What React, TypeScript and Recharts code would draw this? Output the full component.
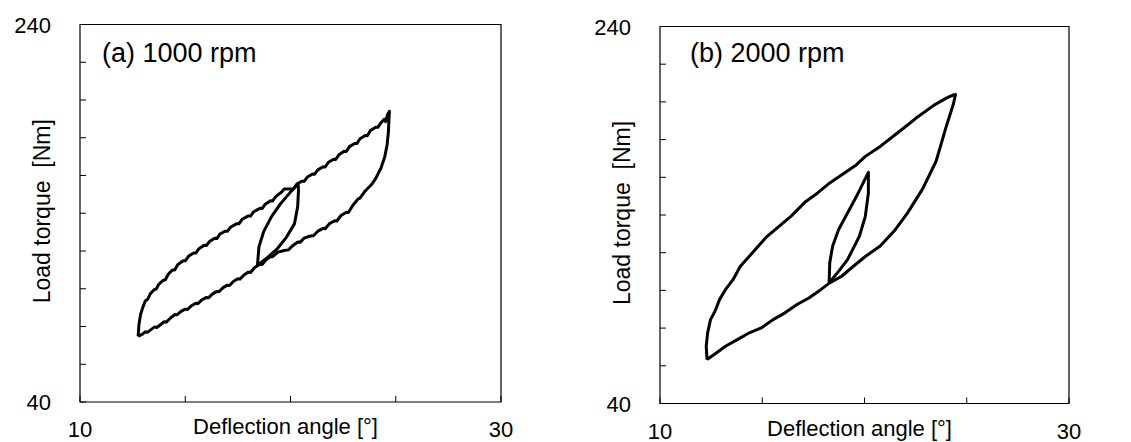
import React from 'react';
import { LineChart, Line, XAxis, YAxis, ReferenceArea } from 'recharts';

const FONT = '"Liberation Sans", Arial, sans-serif';

const xTicks = [10, 15, 20, 25, 30];
const yTicks = [40, 60, 80, 100, 120, 140, 160, 180, 200, 220, 240];
const xLabelTicks = [10, 30];
const yLabelTicks = [40, 240];

// (a) 1000 rpm — outer loop, lower branch (left tip -> right tip)
const lowerA_angle = [
  12.76, 12.95, 13.1, 13.2, 13.4, 13.55, 13.65, 13.85, 14.0, 14.1, 14.3, 14.5, 14.6, 14.8, 15.0, 15.1,
  15.3, 15.5, 15.6, 15.8, 16.0, 16.1, 16.3, 16.5, 16.6, 16.8, 17.0, 17.1, 17.3, 17.5, 17.6, 17.8, 18.0,
  18.1, 18.3, 18.55, 18.65, 18.85, 19.05, 19.15, 19.4, 19.7, 19.9, 20.1, 20.35, 20.45, 20.65, 20.9,
  21.1, 21.3, 21.55, 21.65, 21.85, 22.1, 22.2, 22.4, 22.65, 22.75, 22.95, 23.2, 23.3, 23.55, 23.85,
  24.05, 24.3, 24.48, 24.59, 24.65, 24.68, 24.7,
];
const lowerA_torque = [
  74.8, 75.8, 77.2, 76.9, 78.6, 79.8, 79.5, 81.2, 82.5, 82.3, 84.5, 86.3, 86.2, 88.0, 89.2, 89.0,
  91.0, 92.3, 92.1, 94.2, 95.4, 95.2, 97.3, 98.6, 98.4, 100.6, 101.9, 101.7, 104.0, 105.3, 105.1, 107.4, 108.8,
  108.6, 111.3, 113.0, 112.8, 115.5, 117.0, 117.0, 119.4, 120.3, 120.6, 122.8, 124.8, 124.6, 126.8, 127.8,
  128.2, 130.5, 132.0, 131.8, 134.5, 136.0, 135.9, 138.8, 140.5, 140.4, 144.0, 147.5, 148.0, 151.8, 155.2,
  158.5, 164.0, 170.0, 176.3, 183.0, 190.5, 194.0,
];
// (a) outer loop, upper branch (left tip -> right tip)
const upperA_angle = [
  12.76, 12.8, 12.88, 12.98, 13.1, 13.22, 13.35, 13.52, 13.62, 13.75, 13.95, 14.05, 14.2, 14.4, 14.5,
  14.65, 14.9, 15.0, 15.15, 15.4, 15.5, 15.65, 15.9, 16.0, 16.15, 16.4, 16.5, 16.65, 16.9, 17.0, 17.15,
  17.45, 17.55, 17.7, 18.0, 18.1, 18.25, 18.55, 18.65, 18.8, 19.05, 19.15, 19.3, 19.6, 19.7, 20.15, 20.3,
  20.55, 20.65, 20.8, 21.05, 21.15, 21.3, 21.55, 21.65, 21.8, 22.05, 22.15, 22.3, 22.55, 22.65, 22.8,
  23.05, 23.15, 23.3, 23.55, 23.65, 23.8, 24.05, 24.15, 24.3, 24.45, 24.52, 24.6, 24.7,
];
const upperA_torque = [
  74.8, 81.0, 86.5, 90.0, 93.5, 94.5, 97.5, 99.5, 99.8, 102.5, 104.5, 104.6, 107.8, 110.0, 110.0,
  112.8, 114.8, 114.8, 117.2, 119.0, 118.9, 121.2, 123.0, 122.9, 125.0, 126.8, 126.6, 129.0, 130.5, 130.4, 132.6,
  134.5, 134.4, 136.8, 138.6, 138.5, 140.8, 142.6, 142.5, 144.8, 146.6, 146.5, 148.8, 151.5, 152.8, 153.0, 155.5,
  157.0, 156.9, 159.2, 160.8, 160.7, 163.0, 164.6, 164.5, 167.0, 168.6, 168.5, 171.0, 172.8, 172.7, 175.3,
  177.0, 176.9, 179.5, 181.2, 181.1, 183.8, 185.6, 185.5, 188.0, 189.8, 188.5, 192.0, 194.0,
];
// (a) inner loop
const innerA_angle = [18.43, 18.5, 18.72, 19.09, 19.53, 19.97, 20.36, 20.38, 20.34, 20.19, 19.82, 19.38, 18.94, 18.43];
const innerA_torque = [112.4, 122.2, 130.1, 138.1, 145.1, 150.8, 155.6, 152.2, 143.4, 134.5, 127.5, 121.3, 116.9, 112.4];

// (b) 2000 rpm — outer loop, lower branch (left tip -> right tip)
const lowerB_angle = [
  12.3, 12.77, 13.2, 13.78, 14.37, 14.95, 15.53, 16.11, 16.7, 17.28, 17.86, 18.3, 18.88, 19.46, 20.04,
  20.77, 21.45, 22.1, 22.85, 23.5, 24.0, 24.35, 24.45,
];
const lowerB_torque = [
  63.3, 66.9, 70.4, 73.9, 77.5, 80.1, 84.5, 88.1, 92.5, 96.0, 100.4, 104.0, 107.5, 112.8, 118.0,
  123.5, 131.5, 141.0, 154.0, 168.5, 187.0, 199.0, 204.0,
];
// (b) outer loop, upper branch (left tip -> right tip)
const upperB_angle = [
  12.3, 12.26, 12.33, 12.47, 12.69, 12.91, 13.2, 13.57, 13.93, 14.37, 14.8, 15.24, 15.82, 16.4, 17.13,
  17.71, 18.3, 19.02, 19.61, 20.04, 20.77, 21.5, 22.23, 22.51, 23.4, 24.0, 24.3, 24.45,
];
const upperB_torque = [
  63.3, 70.4, 77.5, 84.5, 88.9, 95.1, 100.4, 105.7, 112.8, 118.1, 123.4, 128.7, 134.0, 139.3, 147.2,
  151.7, 157.0, 162.3, 166.7, 171.1, 176.4, 182.6, 188.8, 191.3, 198.3, 202.0, 203.5, 204.0,
];
// (b) inner loop
const innerB_angle = [18.27, 18.3, 18.44, 18.73, 19.17, 19.61, 20.19, 20.19, 20.04, 19.75, 19.17, 18.73, 18.27];
const innerB_torque = [104.0, 114.6, 123.4, 132.2, 141.1, 149.9, 162.6, 151.7, 139.3, 128.7, 116.3, 110.1, 104.0];

const pts = (xs: number[], ys: number[]) => xs.map((x, i) => ({ x, y: ys[i] }));
// closed loop: lower branch out to the tip, upper branch back to the start
const loop = (lx: number[], ly: number[], ux: number[], uy: number[]) =>
  pts(lx, ly).concat(pts(ux, uy).reverse());

const XTick = (props: any) => {
  const { x, y, payload } = props;
  const v = payload.value;
  return (
    <g>
      <line x1={x} y1={y} x2={x} y2={y - 6} stroke="#000" strokeWidth={1} />
      {xLabelTicks.includes(v) && (
        <text x={x} y={y + 35} textAnchor="middle" fontSize={22} fontFamily={FONT} fill="#000">
          {v}
        </text>
      )}
    </g>
  );
};

const YTick = (props: any) => {
  const { x, y, payload } = props;
  const v = payload.value;
  return (
    <g>
      <line x1={x} y1={y} x2={x + 6} y2={y} stroke="#000" strokeWidth={1} />
      {yLabelTicks.includes(v) && (
        <text x={x - 29} y={y + 8} textAnchor="end" fontSize={22} fontFamily={FONT} fill="#000">
          {v}
        </text>
      )}
    </g>
  );
};

type PanelProps = {
  title: string;
  titleDx: number;
  titleDy: number;
  outer: { x: number; y: number }[];
  inner: { x: number; y: number }[];
  width: number;
  yAxisWidth: number;
  top: number;
  right: number;
  xAxisHeight: number;
};

const Panel = ({ title, titleDx, titleDy, outer, inner, width, yAxisWidth, top, right, xAxisHeight }: PanelProps) => (
  <LineChart width={width} height={442} margin={{ top, right, bottom: 0, left: 0 }}>
    <XAxis
      type="number"
      dataKey="x"
      domain={[10, 30]}
      ticks={xTicks}
      interval={0}
      allowDataOverflow
      height={xAxisHeight}
      axisLine={false}
      tickLine={false}
      tickSize={0}
      tickMargin={0}
      tick={<XTick />}
      label={(p: any) => {
        const vb = p.viewBox;
        return (
          <text x={vb.x + vb.width / 2 - 5} y={vb.y + 32} textAnchor="middle" fontSize={22} fontFamily={FONT} fill="#000">
            Deflection angle [°]
          </text>
        );
      }}
    />
    <YAxis
      type="number"
      domain={[40, 240]}
      ticks={yTicks}
      interval={0}
      allowDataOverflow
      width={yAxisWidth}
      axisLine={false}
      tickLine={false}
      tickSize={0}
      tickMargin={0}
      tick={<YTick />}
      label={(p: any) => {
        const vb = p.viewBox;
        const cx = vb.x + vb.width - 38;
        const cy = vb.y + vb.height / 2 - 2;
        return (
          <text
            x={cx}
            y={cy}
            transform={`rotate(-90, ${cx}, ${cy})`}
            textAnchor="middle"
            dominantBaseline="central"
            fontSize={23}
            fontFamily={FONT}
            fill="#000"
            style={{ whiteSpace: 'pre' }}
          >
            {'Load torque  [Nm]'}
          </text>
        );
      }}
    />
    <ReferenceArea
      x1={10}
      x2={30}
      y1={40}
      y2={240}
      fill="none"
      fillOpacity={0}
      stroke="#000"
      strokeWidth={1.2}
      ifOverflow="visible"
      label={(p: any) => {
        const vb = p.viewBox;
        return (
          <text x={vb.x + titleDx} y={vb.y + titleDy} fontSize={27} fontFamily={FONT} fill="#000">
            {title}
          </text>
        );
      }}
    />
    <Line
      data={outer}
      dataKey="y"
      type="linear"
      stroke="#000"
      strokeWidth={3}
      dot={false}
      activeDot={false}
      isAnimationActive={false}
      strokeLinejoin="round"
    />
    <Line
      data={inner}
      dataKey="y"
      type="linear"
      stroke="#000"
      strokeWidth={3}
      dot={false}
      activeDot={false}
      isAnimationActive={false}
      strokeLinejoin="round"
    />
  </LineChart>
);

export default function App() {
  return (
    <div style={{ position: 'absolute', left: 0, top: 0, width: 1131, height: 442, background: '#fff' }}>
      <div style={{ position: 'absolute', left: 0, top: 0 }}>
        <Panel
          title="(a) 1000 rpm"
          titleDx={22}
          titleDy={37.5}
          outer={loop(lowerA_angle, lowerA_torque, upperA_angle, upperA_torque)}
          inner={pts(innerA_angle, innerA_torque)}
          width={560}
          yAxisWidth={80}
          top={24.5}
          right={59}
          xAxisHeight={40}
        />
      </div>
      <div style={{ position: 'absolute', left: 560, top: 0 }}>
        <Panel
          title="(b) 2000 rpm"
          titleDx={30}
          titleDy={35.5}
          outer={loop(lowerB_angle, lowerB_torque, upperB_angle, upperB_torque)}
          inner={pts(innerB_angle, innerB_torque)}
          width={571}
          yAxisWidth={100}
          top={26.5}
          right={62}
          xAxisHeight={38.5}
        />
      </div>
    </div>
  );
}
